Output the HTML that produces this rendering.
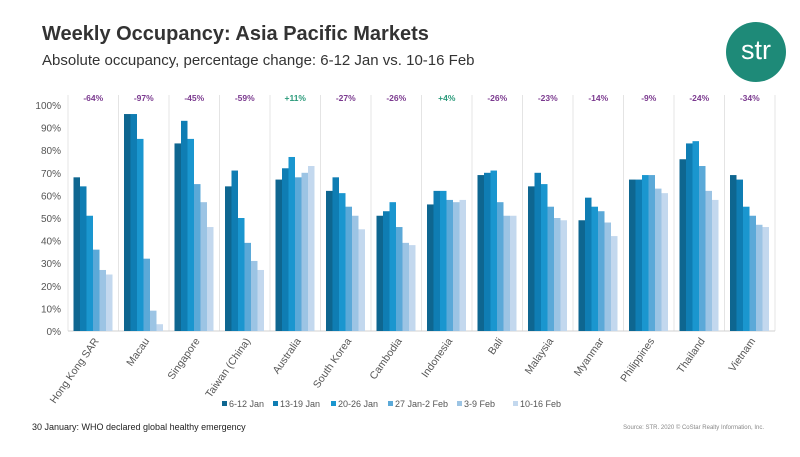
<!DOCTYPE html>
<html><head><meta charset="utf-8"><style>
body{margin:0;width:800px;height:457px;background:#fff;font-family:"Liberation Sans",sans-serif;overflow:hidden;position:relative}
.t{position:absolute;left:42px;top:23px;font-size:20px;font-weight:bold;color:#333}
.s{position:absolute;left:42px;top:52px;font-size:15px;color:#333}
.logo{position:absolute;left:726px;top:22px;width:60px;height:60px;border-radius:50%;background:#1e8a78;color:#fff;font-size:27px;text-align:center;line-height:56px}
.note{position:absolute;left:32px;top:422px;font-size:9px;color:#222}
.src{position:absolute;right:36px;top:425px;font-size:6px;color:#888}
</style></head><body>
<div class="t">Weekly Occupancy: Asia Pacific Markets</div>
<div class="s">Absolute occupancy, percentage change: 6-12 Jan vs. 10-16 Feb</div>
<div class="logo">str</div>
<svg id="c" width="800" height="457" style="position:absolute;left:0;top:0"></svg>
<div class="note">30 January: WHO declared global healthy emergency</div>
<div class="src">Source: STR. 2020 © CoStar Realty Information, Inc.</div>
<script>
const categories=["Hong Kong SAR","Macau","Singapore","Taiwan (China)","Australia","South Korea","Cambodia","Indonesia","Bali","Malaysia","Myanmar","Philippines","Thailand","Vietnam"];
const seriesNames=["6-12 Jan","13-19 Jan","20-26 Jan","27 Jan-2 Feb","3-9 Feb","10-16 Feb"];
const s1=[68,96,83,64,67,62,51,56,69,64,49,67,76,69];
const s2=[64,96,93,71,72,68,53,62,70,70,59,67,83,67];
const s3=[51,85,85,50,77,61,57,62,71,65,55,69,84,55];
const s4=[36,32,65,39,68,55,46,58,57,55,53,69,73,51];
const s5=[27,9,57,31,70,51,39,57,51,50,48,63,62,47];
const s6=[25,3,46,27,73,45,38,58,51,49,42,61,58,46];
const changes=["-64%","-97%","-45%","-59%","+11%","-27%","-26%","+4%","-26%","-23%","-14%","-9%","-24%","-34%"];
const yTicks=[0,10,20,30,40,50,60,70,80,90,100];
const series=[s1,s2,s3,s4,s5,s6];
const colors=["#0e6690","#0f7db3","#1a96cf","#5ba9d8","#9cc4e4","#c3d8ee"];
const svg=document.getElementById('c');const NS="http://www.w3.org/2000/svg";
const X0=68,X1=775,Y0=331,Y1=105;const bw=(X1-X0)/categories.length;
const y=v=>Y0-(v/100)*(Y0-Y1);
function mk(t,a,txt){const e=document.createElementNS(NS,t);for(const k in a)e.setAttribute(k,a[k]);if(txt!=null)e.textContent=txt;svg.appendChild(e);return e;}
yTicks.forEach(t=>{const e=mk('text',{x:X0-7,y:y(t)+4,'text-anchor':'end','font-size':10,fill:'#555'},t+'%');

});
for(let i=0;i<=categories.length;i++){const l=mk('line',{x1:X0+i*bw,x2:X0+i*bw,y1:Y1-10,y2:Y0,stroke:'#e4e4e4','stroke-width':1});

}
const ax=mk('line',{x1:X0,x2:X1,y1:Y0,y2:Y0,stroke:'#d0d0d0'});


categories.forEach((c,i)=>{const gx=X0+i*bw+5.5,w=6.5;
series.forEach((s,j)=>{const r=mk('rect',{x:gx+j*w,y:y(s[i]),width:w,height:Y0-y(s[i]),fill:colors[j]});

});
const cx=X0+(i+0.5)*bw;
const t=mk('text',{x:cx,y:101,'text-anchor':'middle','font-size':8.5,'font-weight':'bold',fill:changes[i][0]=='+'?'#2a9a7a':'#7b3a8f'},changes[i]);


const lb=mk('text',{x:cx+6,y:Y0+10,'text-anchor':'end','font-size':10.5,fill:'#555',transform:`rotate(-55 ${cx+6} ${Y0+10})`},c);

});
const lx=[222,273,331,388,457,513];
seriesNames.forEach((n,j)=>{const r=mk('rect',{x:lx[j],y:401,width:5,height:5,fill:colors[j]});


const t=mk('text',{x:lx[j]+7,y:407,'font-size':9,fill:'#555'},n);

});
</script>
</body></html>
